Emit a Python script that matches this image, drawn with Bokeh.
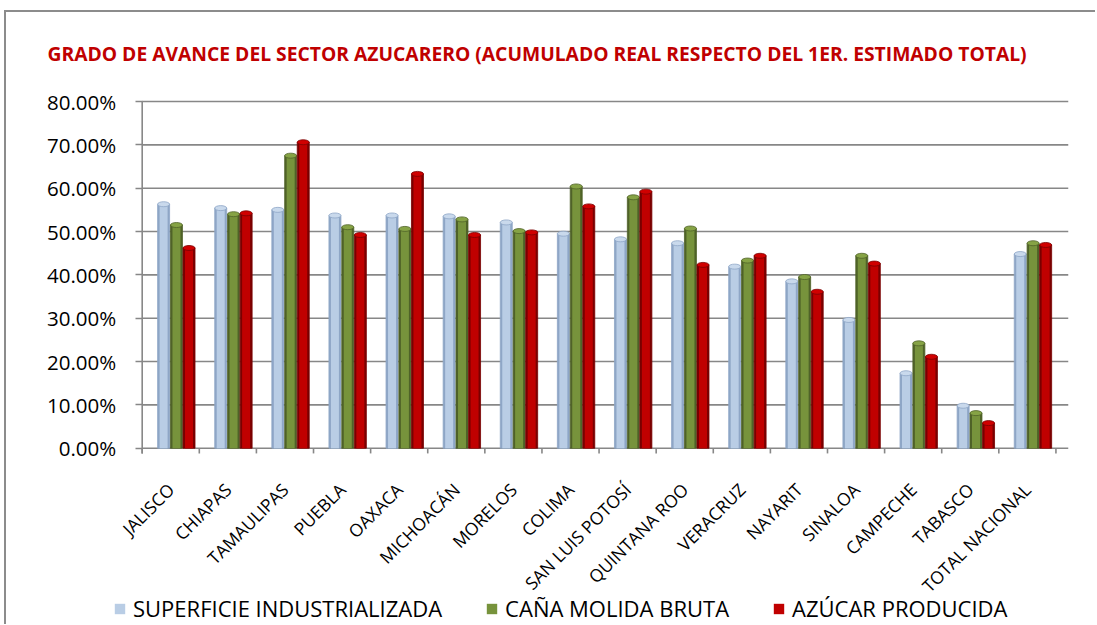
from math import pi
import numpy as np
from bokeh.plotting import figure
from bokeh.layouts import column
from bokeh.models import (Range1d, FixedTicker, PrintfTickFormatter, Legend, LegendItem,
                          ColumnDataSource, Title)
from bokeh.embed import file_html
from bokeh.resources import INLINE

# ---------------- data ----------------
estados = ["JALISCO", "CHIAPAS", "TAMAULIPAS", "PUEBLA", "OAXACA", "MICHOACÁN", "MORELOS",
           "COLIMA", "SAN LUIS POTOSÍ", "QUINTANA ROO", "VERACRUZ", "NAYARIT", "SINALOA",
           "CAMPECHE", "TABASCO", "TOTAL NACIONAL"]
superficie = [56.3, 55.4, 55.0, 53.7, 53.7, 53.5, 52.1, 49.5, 48.2, 47.3, 41.9, 38.5, 29.6, 17.3, 9.8, 44.8]
cana = [51.5, 54.0, 67.5, 51.0, 50.6, 52.8, 50.1, 60.4, 57.9, 50.7, 43.3, 39.5, 44.4, 24.2, 8.1, 47.3]
azucar = [46.2, 54.2, 70.6, 49.2, 63.3, 49.2, 49.8, 55.8, 59.2, 42.3, 44.4, 36.1, 42.6, 21.1, 5.8, 46.9]
series_names = ["SUPERFICIE INDUSTRIALIZADA", "CAÑA MOLIDA BRUTA", "AZÚCAR PRODUCIDA"]
y_ticks = [0, 10, 20, 30, 40, 50, 60, 70, 80]
titulo = "GRADO DE AVANCE DEL SECTOR AZUCARERO (ACUMULADO REAL RESPECTO DEL 1ER. ESTIMADO TOTAL)"

# ---------------- styles ----------------
main_colors = ["#B9CDE5", "#77933C", "#C00000"]
edge_colors = ["#8EA6C6", "#4F6228", "#7A0000"]
cap_colors = ["#C9D9EC", "#86A345", "#D00000"]
offsets = [-0.125, 0.1, 0.32]
bar_w = 0.21
inner_w = 0.14
grid_col = "#878787"
floor_depth = 1.2      # depth of the floor strip below the zero line (value units)
y_lo = -33.75          # frame extends down to hold the rotated category labels
y_hi = 83              # a little headroom so the top value label is not clipped
x_lo = -2.876          # frame extends left to hold the value labels
x_hi = 15.72

n = len(estados)
centers = np.arange(n)
bounds = np.arange(n + 1) - 0.5

p = figure(width=1089, height=582, output_backend="svg", toolbar_location=None,
           x_range=Range1d(x_lo, x_hi), y_range=Range1d(y_lo, y_hi),
           min_border_left=0, min_border_right=27, min_border_top=76, min_border_bottom=0,
           background_fill_color="white", border_fill_color="white")
p.outline_line_color = None
p.xgrid.grid_line_color = None
p.ygrid.grid_line_color = None

# horizontal gridlines of the back wall
p.segment(x0=[bounds[0]] * len(y_ticks), y0=y_ticks, x1=[x_hi] * len(y_ticks), y1=y_ticks,
          line_color=grid_col, line_width=1.6)

# y axis pinned at the first category boundary
ya = p.yaxis[0]
ya.fixed_location = bounds[0]
ya.ticker = FixedTicker(ticks=y_ticks)
ya.formatter = PrintfTickFormatter(format="%.2f%%")
ya.axis_line_color = None
ya.major_tick_line_color = grid_col
ya.major_tick_line_width = 1.6
ya.major_tick_out = 7
ya.major_tick_in = 0
ya.minor_tick_line_color = None
ya.major_label_standoff = 19
ya.major_label_text_font = "Open Sans"
ya.major_label_text_font_size = "20.5px"
ya.major_label_text_color = "#000000"

p.segment(x0=[bounds[0]], y0=[-floor_depth], x1=[bounds[0]], y1=[y_ticks[-1]],
          line_color=grid_col, line_width=1.6)

# category boundary ticks below the floor line
p.segment(x0=bounds, y0=[0] * len(bounds), x1=bounds, y1=[-floor_depth] * len(bounds),
          line_color=grid_col, line_width=1.6)

# x axis pinned at the zero line, labels rotated 45°
xa = p.xaxis[0]
xa.fixed_location = 0
xa.ticker = FixedTicker(ticks=[int(c) for c in centers])
xa.major_label_overrides = {int(c): nm for c, nm in zip(centers, estados)}
xa.major_label_orientation = pi / 4
xa.axis_line_color = None
xa.major_tick_line_color = None
xa.major_tick_out = 0
xa.major_tick_in = 0
xa.minor_tick_line_color = None
xa.major_label_standoff = 38
xa.major_label_text_font = "Open Sans"
xa.major_label_text_font_size = "17.5px"
xa.major_label_text_color = "#000000"

# bars
series = [superficie, cana, azucar]
for k, vals in enumerate(series):
    xs = centers + offsets[k]
    src = ColumnDataSource(dict(x=xs, top=vals))
    p.vbar(x="x", top="top", bottom=0, width=bar_w, source=src,
           fill_color=edge_colors[k], line_color=edge_colors[k], line_width=0.8)
    p.vbar(x="x", top="top", bottom=0, width=inner_w, source=src,
           fill_color=main_colors[k], line_color=None)
    p.ellipse(x="x", y="top", width=bar_w, height=5, height_units="screen", source=src,
              fill_color=cap_colors[k], line_color=edge_colors[k], line_width=0.8)

# spacer between frame and title, then the title (outermost)
p.add_layout(Title(text=" ", text_font_size="1px", standoff=14), "above")
p.title.text = titulo
p.title.align = "left"
p.title.offset = 41
p.title.text_font = "Open Sans"
p.title.text_font_size = "19.3px"
p.title.text_font_style = "bold"
p.title.text_color = "#C00000"
p.title.standoff = 10

# legend strip (separate small figure below the chart)
pl = figure(width=1089, height=30, output_backend="svg", toolbar_location=None,
            x_axis_location=None, y_axis_location=None,
            x_range=Range1d(0, 1), y_range=Range1d(0, 1),
            min_border_left=0, min_border_right=0, min_border_top=0, min_border_bottom=0,
            background_fill_color="white", border_fill_color="white")
pl.outline_line_color = None
pl.grid.grid_line_color = None
leg_x = 107
try:
    pl.frame_align = False
except Exception:
    leg_x = 107
legend_items = []
for k in range(3):
    r = pl.vbar(x=[0.5], top=[0], bottom=[0], width=0.0, fill_color=main_colors[k], line_color=None)
    legend_items.append(LegendItem(label=series_names[k], renderers=[r]))

legend = Legend(items=legend_items, orientation="horizontal", location=(leg_x, 1),
                label_text_font="Open Sans", label_text_font_size="22px",
                label_text_color="#000000", glyph_width=13, glyph_height=13,
                label_standoff=7, spacing=43, padding=0, margin=0,
                label_height=22, border_line_color=None, background_fill_alpha=0)
pl.add_layout(legend)

layout = column(p, pl, spacing=0,
                styles={"margin-left": "4px", "margin-top": "10px",
                        "border-top": "2px solid #8c8c8c", "border-left": "2px solid #8c8c8c"})

open("out.html", "w").write(file_html(layout, INLINE))
